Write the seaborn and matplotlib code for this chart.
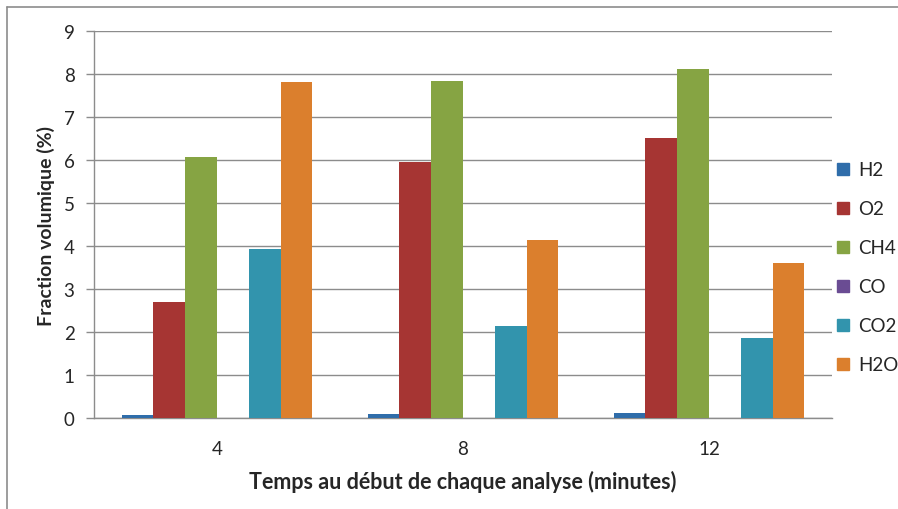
import matplotlib
matplotlib.use('Agg')
import matplotlib.pyplot as plt
import seaborn as sns
import pandas as pd
from matplotlib.lines import Line2D

# data
times = ['4', '8', '12']
gases = ['H2', 'O2', 'CH4', 'CO', 'CO2', 'H2O']
h2 = [0.07, 0.10, 0.11]
o2 = [2.69, 5.95, 6.51]
ch4 = [6.06, 7.84, 8.12]
co = [0.0, 0.0, 0.0]
co2 = [3.93, 2.13, 1.87]
h2o = [7.81, 4.15, 3.60]

colors = ['#2F6DAA', '#A63533', '#86A443', '#6A4C93', '#3294AD', '#DB7F2D']

rows = []
for gas, vals in zip(gases, [h2, o2, ch4, co, co2, h2o]):
    for t, v in zip(times, vals):
        rows.append({'temps': t, 'gaz': gas, 'fraction': v})
df = pd.DataFrame(rows)

sns.set_style('white')
plt.rcParams['font.family'] = ['Lato', 'DejaVu Sans']
plt.rcParams['font.size'] = 13.5

fig = plt.figure(figsize=(8.98, 5.10), dpi=100)
ax = fig.add_axes([94/898, 91/510, 738/898, 387/510])

sns.barplot(data=df, x='temps', y='fraction', hue='gaz', order=times,
            hue_order=gases, palette=colors, width=0.775, saturation=1,
            linewidth=0, legend=False, ax=ax, zorder=3)

ax.set_ylim(0, 9)
ax.set_xlim(-0.5, 2.5)
ax.set_yticks(range(10))
ax.yaxis.grid(True, color='#8c8c8c', linewidth=1, zorder=0)
ax.set_axisbelow(True)
ax.set_xticks([0, 1, 2])
ax.set_xticks([-0.5, 0.5, 1.5, 2.5], minor=True)
ax.tick_params(axis='x', which='major', length=0, pad=16, labelsize=13.5)
ax.tick_params(axis='x', which='minor', length=6, width=1, color='#8c8c8c', direction='out')
ax.tick_params(axis='y', length=6, width=1, color='#8c8c8c', direction='out', pad=8, labelsize=13.5)
ax.tick_params(left=True, bottom=True)
for s in ['top', 'right']:
    ax.spines[s].set_visible(False)
for s in ['left', 'bottom']:
    ax.spines[s].set_color('#8c8c8c')
    ax.spines[s].set_linewidth(1)

ax.set_xlabel('Temps au début de chaque analyse (minutes)', fontweight='bold', fontsize=15.5, labelpad=9)
ax.set_ylabel('Fraction volumique (%)', fontweight='bold', fontsize=14, labelpad=6)

handles = [Line2D([0], [0], marker='s', linestyle='', markersize=9,
                  markerfacecolor=c, markeredgecolor=c) for c in colors]
fig.legend(handles, gases, loc='upper left', bbox_to_anchor=(826/898, 1 - 155/510),
           frameon=False, handletextpad=0.3, labelspacing=1.17, fontsize=13.5,
           handlelength=1.0, borderaxespad=0)

# chart border (top and left visible)
fig.add_artist(Line2D([7/898, 1], [1 - 8/510, 1 - 8/510], color='#8c8c8c', linewidth=1.2, transform=fig.transFigure))
fig.add_artist(Line2D([7/898, 7/898], [0, 1 - 8/510], color='#8c8c8c', linewidth=1.2, transform=fig.transFigure))

fig.savefig('out.png', dpi=100, facecolor='white')
